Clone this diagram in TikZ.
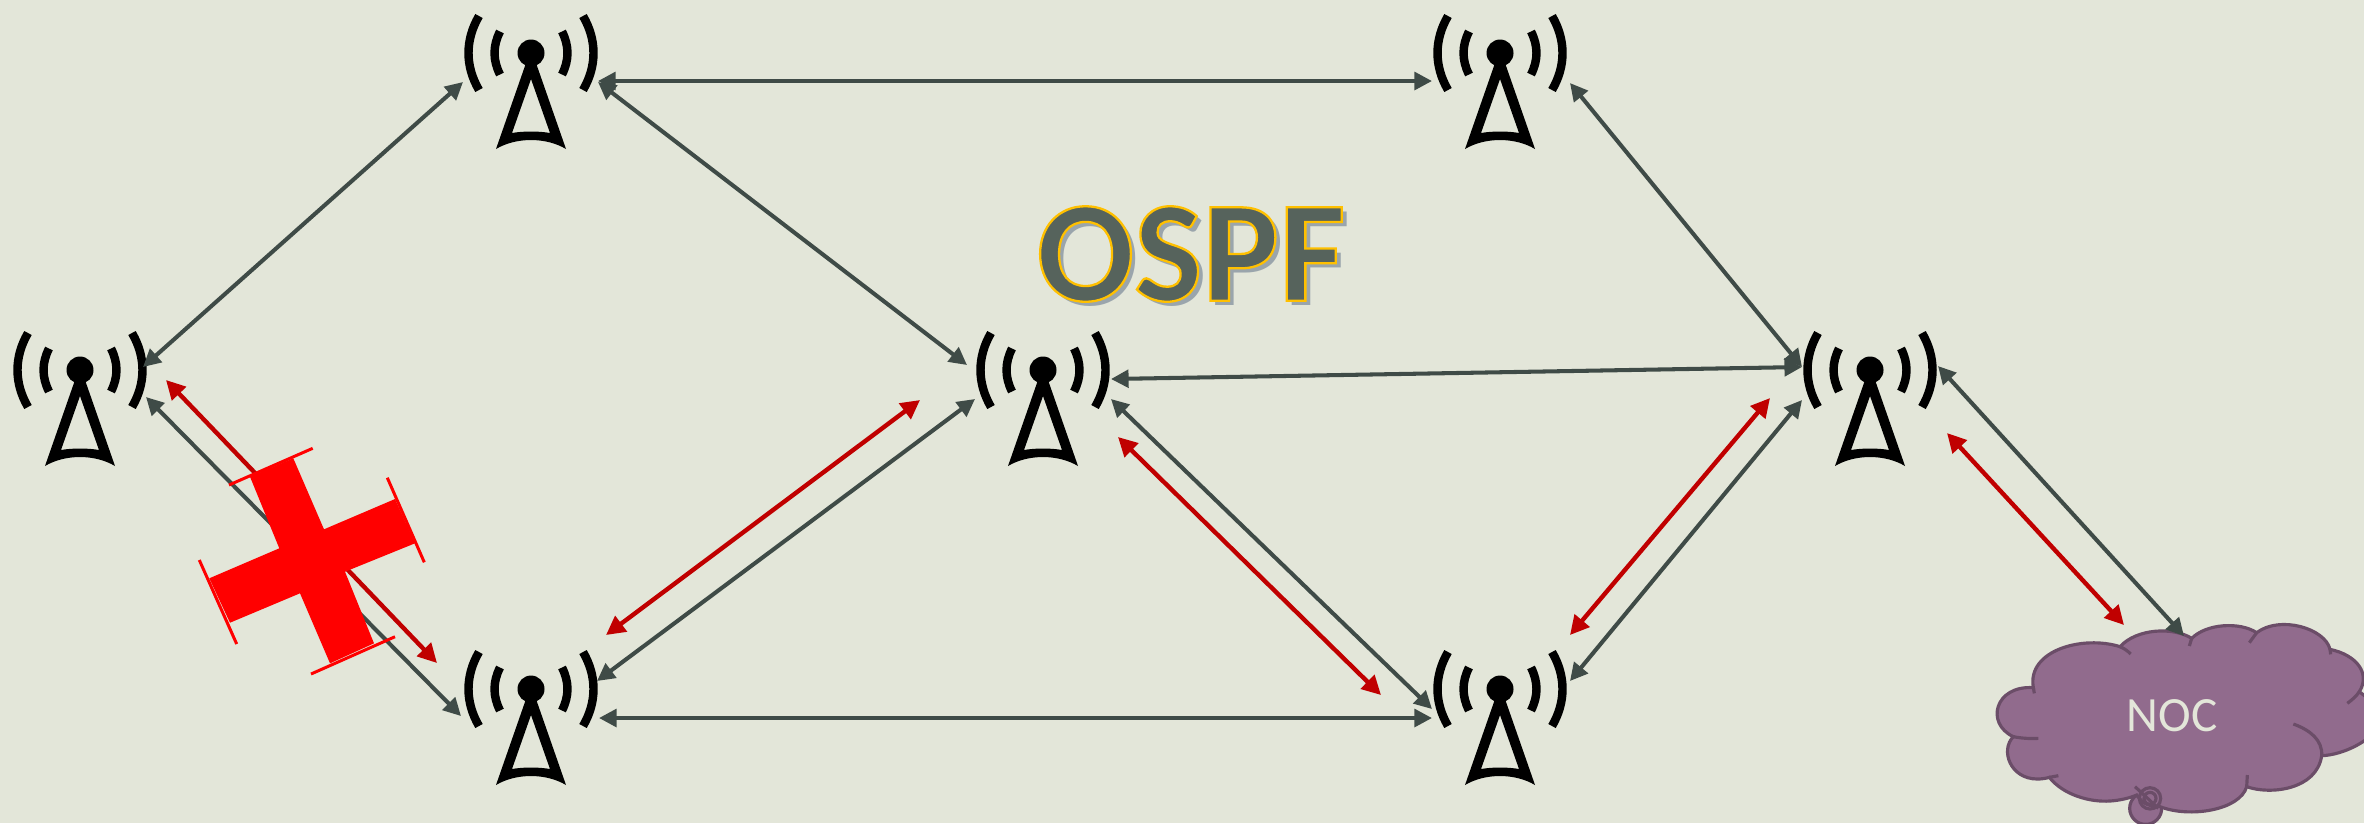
\documentclass[tikz,border=0pt]{standalone}
\usepackage{fontspec}
\setmainfont{Carlito}
\usetikzlibrary{arrows.meta,calc}
\definecolor{paper}{HTML}{E3E6D9}
\definecolor{linkgray}{HTML}{3F4B47}
\definecolor{linkred}{HTML}{C00000}
\definecolor{cloudfill}{HTML}{916B8D}
\definecolor{cloudline}{HTML}{6B4D68}
\definecolor{titleshadow}{HTML}{9AA5AC}
\tikzstyle{graylink}=[draw=linkgray, line width=1.15pt, {Triangle[length=5pt,width=5pt]}-{Triangle[length=5pt,width=5pt]}, color=linkgray]
\tikzstyle{redlink}=[draw=linkred, line width=1.25pt, {Triangle[length=5.4pt,width=5.4pt]}-{Triangle[length=5.4pt,width=5.4pt]}, color=linkred]
\tikzstyle{cloudstroke}=[draw=cloudline, line width=0.9pt]
\tikzstyle{crossbar}=[draw=red, line width=0.85pt]
\tikzset{
	pics/tower/.style={code={
		\fill (0,0) circle (13.5);
		\fill[even odd rule] (-5,10) -- (-35,96) .. controls (-15,84) and (15,84) .. (35,96) -- (5,10) -- cycle
			(0,26) -- (-19,80) .. controls (-8,78) and (8,78) .. (19,80) -- cycle;
		\foreach \s in {-1,1} {
			\draw[line width=2.4pt] (\s*52,-37) .. controls (\s*66,-13) and (\s*66,13) .. (\s*52,37);
			\draw[line width=2.4pt] (\s*31,-21.5) .. controls (\s*38.3,-7) and (\s*38.3,7) .. (\s*31,21.5);
		}
	}}
}

\begin{document}
\begin{tikzpicture}[x=0.01cm,y=-0.01cm]
\useasboundingbox (0,0) rectangle (2364,823);
\clip (0,0) rectangle (2364,823);
\fill[paper] (0,0) rectangle (2364,823);

% Towers
\foreach \name/\x/\y in {tleft/80/370,ttopl/531/53,ttopr/1500/53,tmid/1043/370,tright/1870/370,tbotl/531/689,tbotr/1500/689} {
	\coordinate (\name) at (\x,\y);
	\pic at (\name) {tower};
}
\coordinate (noc) at (2172,716);

% Cloud
\begin{scope}[shift={(1950,560)},scale=1/3]
\path[fill=cloudfill,cloudstroke] (587,745) circle (48);
\path[fill=cloudfill,cloudstroke] (190,530)
	.. controls (150,570) and (180,657) .. (262,657)
	.. controls (275,657) and (288,655) .. (298,652)
	.. controls (340,705) and (420,727) .. (480,723)
	.. controls (510,721) and (540,714) .. (560,705)
	.. controls (580,735) and (600,738) .. (630,740)
	.. controls (720,775) and (870,750) .. (890,680)
	.. controls (960,705) and (1100,690) .. (1115,587)
	.. controls (1180,585) and (1270,540) .. (1290,490)
	.. controls (1300,450) and (1260,420) .. (1228,395)
	.. controls (1262,340) and (1220,285) .. (1140,268)
	.. controls (1125,205) and (990,165) .. (920,218)
	.. controls (870,185) and (770,190) .. (725,235)
	.. controls (670,200) and (560,205) .. (510,260)
	.. controls (400,225) and (230,270) .. (250,383)
	.. controls (135,375) and (105,490) .. (190,530) -- cycle;
\draw[cloudstroke] (510,260) .. controls (522,265) and (532,272) .. (542,282);
\draw[cloudstroke] (725,235) -- (718,258);
\draw[cloudstroke] (920,218) -- (898,248);
\draw[cloudstroke] (1140,268) -- (1142,283);
\draw[cloudstroke] (1228,395) .. controls (1218,410) and (1205,420) .. (1192,430);
\draw[cloudstroke] (1115,587) .. controls (1118,540) and (1080,510) .. (1030,492);
\draw[cloudstroke] (890,680) -- (892,645);
\draw[cloudstroke] (298,652) -- (325,647);
\draw[cloudstroke] (190,530) .. controls (210,534) and (240,537) .. (265,535);
\draw[cloudstroke] (250,383) -- (253,400);
\draw[cloudstroke] (600,715) circle (32);
\draw[cloudstroke] (600,715) circle (18);
\draw[cloudstroke] (555,680) -- (625,745);
\end{scope}
\node[text=paper,font=\fontsize{14}{15}\selectfont,inner sep=0pt] (noclabel) at (2172,716) {NOC};

% Gray links
\draw[graylink] ($(tleft)+(63,-3)$) -- ($(ttopl)+(-68,29)$);
\draw[graylink] ($(ttopl)+(67,28)$) -- ($(ttopr)+(-68,28)$);
\draw[graylink] ($(ttopl)+(67,29)$) -- ($(tmid)+(-76,-5)$);
\draw[graylink] ($(tleft)+(66,27)$) -- ($(tbotl)+(-70,27)$);
\draw[graylink] ($(tbotl)+(66,-8)$) -- ($(tmid)+(-68,29)$);
\draw[graylink] ($(tbotl)+(68,29)$) -- ($(tbotr)+(-68,29)$);
\draw[graylink] ($(tmid)+(68,9)$) -- ($(tright)+(-68,-3)$);
\draw[graylink] ($(ttopr)+(70,30)$) -- ($(tright)+(-68,-3)$);
\draw[graylink] ($(tmid)+(68,29)$) -- ($(tbotr)+(-68,20)$);
\draw[graylink] ($(tbotr)+(70,-8)$) -- ($(tright)+(-68,30)$);
\draw[graylink] ($(tright)+(68,-4)$) -- ($(noc)+(12,-80)$);

% Red links
\draw[redlink] ($(tbotl)+(75,-54)$) -- ($(tmid)+(-123,30)$);
\draw[redlink] ($(tmid)+(75,67)$) -- ($(tbotr)+(-119,6)$);
\draw[redlink] ($(tbotr)+(70,-54)$) -- ($(tright)+(-100,28)$);
\draw[redlink] ($(tright)+(77,63)$) -- ($(noc)+(-48,-91)$);
\draw[redlink] ($(tleft)+(86,10)$) -- ($(tbotl)+(-94,-26)$);

% Cross
\fill[red] (250,476.7) -- (293.3,458.3) -- (324,529.3) -- (395,499) -- (415,543.3) -- (345,571.7)
	-- (374,643.3) -- (330,663.3) -- (300,593.3) -- (230,622.7) -- (209.3,578.3) -- (279.3,548.3) -- cycle;
\draw[crossbar] (229,485) -- (312.7,448.3);
\draw[crossbar] (387.3,477.7) -- (424.3,562.3);
\draw[crossbar] (311,674) -- (395,636.7);
\draw[crossbar] (199.3,560) -- (236.7,644);

% Title
\node[text=titleshadow,font=\fontsize{41}{44}\selectfont\bfseries,inner sep=0pt] (titleshadow) at (1196,259) {OSPF};
\node[font=\fontsize{41}{44}\selectfont\bfseries,inner sep=0pt] (title) at (1191,254)
	{\special{pdf:code 2 Tr 0.65 w 1 0.753 0 RG 0.337 0.388 0.361 rg}OSPF\special{pdf:code 0 Tr}};
\end{tikzpicture}
\end{document}
